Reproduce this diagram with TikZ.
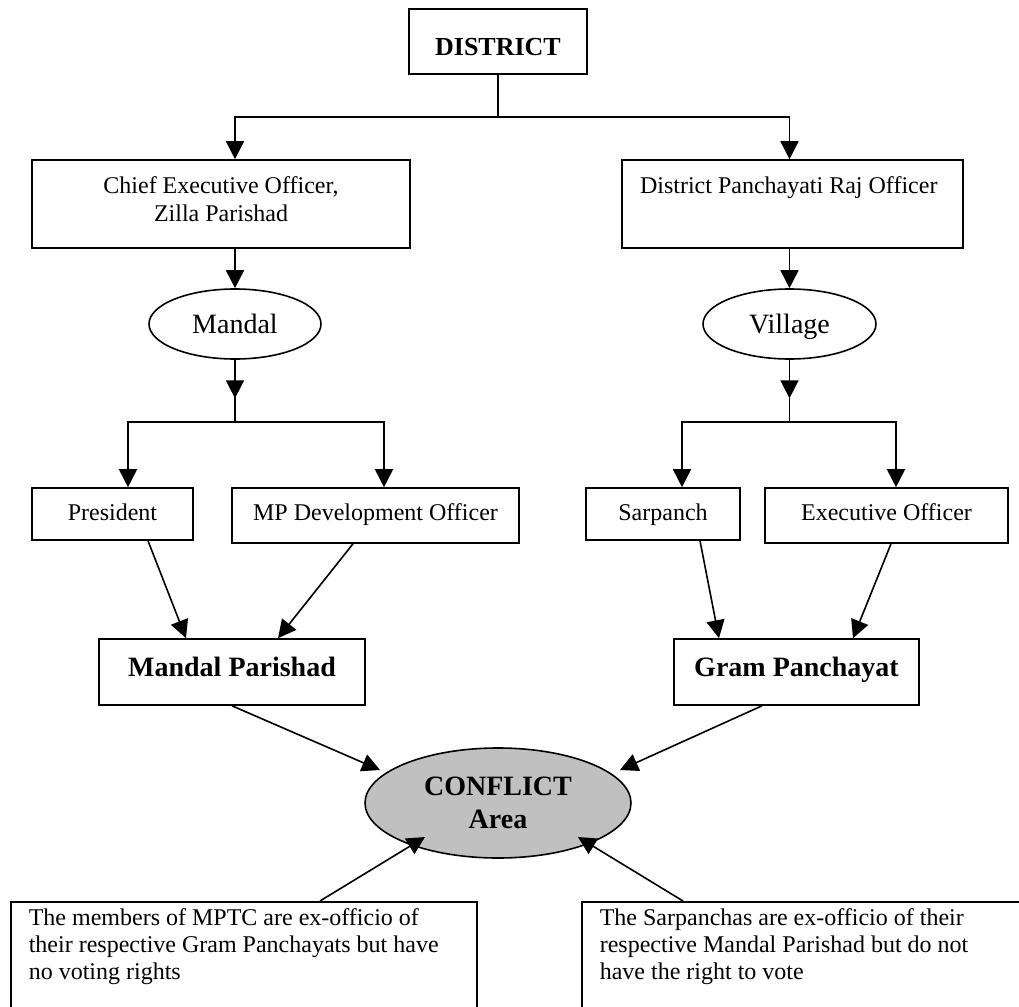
\documentclass[tikz,border=0pt]{standalone}
\usepackage{fontspec}
\setmainfont{Liberation Serif}
\usetikzlibrary{arrows.meta,calc,shapes.geometric}
\definecolor{conflictgray}{RGB}{192,192,192}

\begin{document}
\begin{tikzpicture}[x=0.5pt,y=-0.5pt,line width=0.8pt,
  every node/.style={font=\fontsize{12}{13.8}\selectfont, inner sep=0pt},
  box/.style={draw, rectangle, align=center},
  oval/.style={draw, ellipse, font=\fontsize{14}{16.5}\selectfont, text height=10pt, text depth=0.7pt},
  heading/.style={font=\fontsize{14}{16.5}\selectfont\bfseries},
  arr/.style={-{Triangle[length=9pt,width=9pt]}},
  note/.style={draw, rectangle, anchor=north west, align=flush left, inner xsep=9pt, inner ysep=3.5pt,
    font=\fontsize{12}{13.5}\selectfont}]

\fill[white] (0,0) rectangle (1019,1007);
\useasboundingbox (0,0) rectangle (1019,1007);
\clip (0,0) rectangle (1019,1007);

% top level
\node[box, minimum width=89pt, minimum height=32.5pt, font=\fontsize{13}{15}\selectfont\bfseries,
  text height=13.5pt, text depth=0pt] (district) at (498,41.5) {DISTRICT};

% officers
\node[box, minimum width=189pt, minimum height=44pt] (ceo) at (221,204)
  {Chief Executive Officer,\\Zilla Parishad\rule[-5pt]{0pt}{5pt}};
\node[box, minimum width=170.5pt, minimum height=44pt, text width=152.5pt, align=flush left, inner xsep=9pt]
  (dpro) at (792.5,204) {District Panchayati Raj Officer\\\rule[-5pt]{0pt}{5pt}};

% levels
\node[oval, minimum width=86pt, minimum height=35pt] (mandal) at (235,324) {Mandal};
\node[oval, minimum width=86.5pt, minimum height=35pt] (village) at (789.5,324) {Village};

% functionaries
\node[box, minimum width=80.5pt, minimum height=26pt, text height=8pt, text depth=2pt] (pres) at (112.5,514) {President};
\node[box, minimum width=143.5pt, minimum height=27.5pt, text height=7pt, text depth=2.5pt] (mpdo) at (375.5,515.5) {MP Development Officer};
\node[box, minimum width=77pt, minimum height=26pt, text height=8pt, text depth=2pt] (sarp) at (663,514) {Sarpanch};
\node[box, minimum width=121.5pt, minimum height=27.5pt, text height=7pt, text depth=2.5pt] (eo) at (886.5,515.5) {Executive Officer};

% bodies
\node[box, heading, minimum width=133pt, minimum height=33pt, text height=9.7pt, text depth=5pt] (mp) at (232,672) {Mandal Parishad};
\node[box, heading, minimum width=122.5pt, minimum height=33pt, text height=9.7pt, text depth=5pt] (gp) at (796.5,672) {Gram Panchayat};

% conflict
\node[draw, ellipse, fill=conflictgray, heading, align=center, minimum width=133pt, minimum height=55pt]
  (conflict) at (498,803) {CONFLICT\\Area};

% notes
\node[note, text width=215pt] (note1) at (10,901)
  {The members of MPTC are ex-officio of\\their respective Gram Panchayats but have\\no voting rights\\[14pt]\mbox{}};
\node[note, text width=240pt] (note2) at (581,901)
  {The Sarpanchas are ex-officio of their\\respective Mandal Parishad but do not\\have the right to vote\\[14pt]\mbox{}};

% district split
\coordinate (j1) at (498,117);
\draw (district.south) -- (j1);
\draw[arr] (j1) -| (ceo.north -| mandal.center);
\draw[arr] (j1) -| (dpro.north -| village.center);

\draw[arr] (ceo.south -| mandal.center) -- (mandal.north);
\draw[arr] (dpro.south -| village.center) -- (village.north);

% mandal split
\coordinate (j2) at (235,422);
\draw (mandal.south) -- (j2);
\draw[arr] (mandal.south) -- ($(mandal.south)!0.62!(j2)$);
\draw[arr] (j2) -| ($(pres.north)+(15.5,0)$);
\draw[arr] (j2) -| ($(mpdo.north)+(8.5,0)$);

% village split
\coordinate (j3) at (789.5,422);
\draw (village.south) -- (j3);
\draw[arr] (village.south) -- ($(village.south)!0.62!(j3)$);
\draw[arr] (j3) -| ($(sarp.north)+(19,0)$);
\draw[arr] (j3) -| ($(eo.north)+(9.5,0)$);

% into the bodies
\draw[arr] ($(pres.south)+(35.5,0)$) -- ($(mp.north)+(-46,0)$);
\draw[arr] ($(mpdo.south)+(-22.5,0)$) -- ($(mp.north)+(46,0)$);
\draw[arr] ($(sarp.south)+(37,0)$) -- ($(gp.north)+(-77.5,0)$);
\draw[arr] ($(eo.south)+(4.5,0)$) -- ($(gp.north)+(56.5,0)$);

% into the conflict area
\draw[arr] (mp.south) -- ($(conflict.center)+(-118,-33)$);
\draw[arr] ($(gp.south)+(-34.5,0)$) -- ($(conflict.center)+(122,-33)$);
\draw[arr] ($(note1.north west)+(310,0)$) -- ($(conflict.center)+(-73,34)$);
\draw[arr] ($(note2.north west)+(102,0)$) -- ($(conflict.center)+(80,34)$);

\end{tikzpicture}
\end{document}
